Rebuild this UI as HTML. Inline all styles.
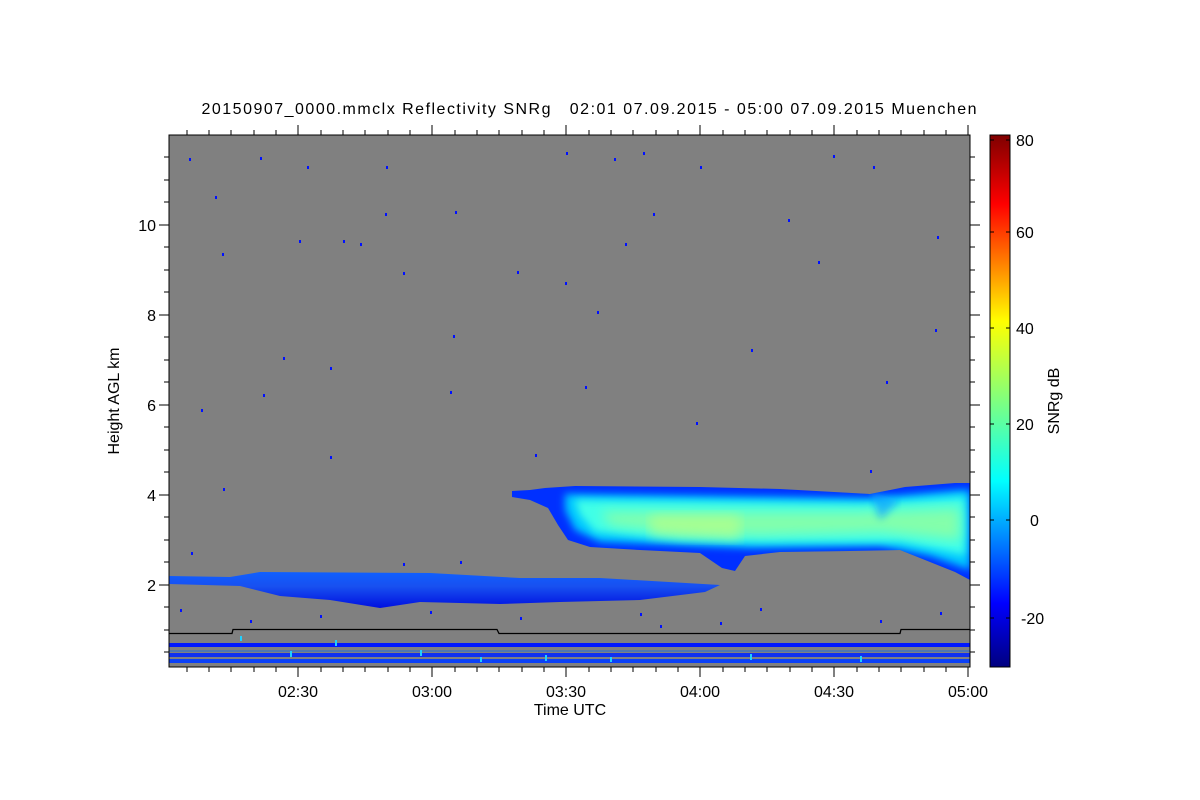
<!DOCTYPE html>
<html><head><style>
body{margin:0;background:#fff;}
svg{display:block;font-family:"Liberation Sans",sans-serif;}
</style></head><body>
<svg width="1200" height="800" viewBox="0 0 1200 800">
<defs>
<linearGradient id="cb" x1="0" y1="1" x2="0" y2="0">
<stop offset="0" stop-color="#00007f"/>
<stop offset="0.12" stop-color="#0000ff"/>
<stop offset="0.35" stop-color="#00ffff"/>
<stop offset="0.5" stop-color="#7fff7f"/>
<stop offset="0.65" stop-color="#ffff00"/>
<stop offset="0.87" stop-color="#ff0000"/>
<stop offset="1" stop-color="#7f0000"/>
</linearGradient>
<linearGradient id="lo" x1="0" y1="0" x2="0" y2="1">
<stop offset="0" stop-color="#1060ff"/>
<stop offset="0.4" stop-color="#1850f0"/>
<stop offset="1" stop-color="#0010e0"/>
</linearGradient>
<filter id="bl" x="-5%" y="-20%" width="110%" height="140%"><feGaussianBlur stdDeviation="4"/></filter>
<filter id="bl2" x="-5%" y="-20%" width="110%" height="140%"><feGaussianBlur stdDeviation="6"/></filter>
<clipPath id="cc"><path d="M512,491 L530,490 L545,488 L575,486 L700,487 L780,489 L870,494 L905,487 L955,483 L970,483 L970,580 L955,572 L925,560 L900,550 L850,551 L780,552 L745,556 L735,571 L722,568 L700,553 L640,550 L590,547 L568,540 L558,525 L548,508 L530,500 L512,497 Z"/></clipPath>
</defs>
<text x="589" y="114" font-size="16" text-anchor="middle" textLength="775" xml:space="preserve">20150907_0000.mmclx Reflectivity SNRg   02:01 07.09.2015 - 05:00 07.09.2015 Muenchen</text>
<rect x="169" y="135" width="801" height="532" fill="#808080"/>
<!-- lower cloud -->
<path d="M169,576 L230,577 L260,572 L430,573 L520,578 L600,578 L720,585 L705,592 L640,600 L560,602 L500,604 L420,602 L380,608 L330,600 L280,596 L240,586 L169,584 Z" fill="url(#lo)"/>
<!-- upper cloud -->
<g clip-path="url(#cc)">
<rect x="500" y="480" width="480" height="110" fill="#0030ff"/>
<path d="M565,494 L870,498 L960,490 L970,490 L970,570 L930,556 L880,546 L750,548 L700,546 L600,542 L575,530 L565,510 Z" fill="#00c8ff" filter="url(#bl)"/>
<path d="M575,500 L865,504 L965,497 L965,555 L900,542 L760,542 L680,540 L595,532 L580,515 Z" fill="#40ffe8" filter="url(#bl)"/>
<path d="M600,512 L860,512 L960,508 L960,540 L880,532 L760,535 L680,533 L610,525 Z" fill="#90ffa0" filter="url(#bl2)" opacity="0.85"/>
<path d="M650,515 L740,515 L740,540 L650,535 Z" fill="#c0ff80" filter="url(#bl2)" opacity="0.6"/>
<path d="M870,492 L900,500 L880,520 Z" fill="#10a0ff" filter="url(#bl)" opacity="0.7"/>
</g>
<!-- clutter bands -->
<rect x="169" y="643" width="801" height="4" fill="#0018ff"/>
<rect x="169" y="653" width="801" height="4" fill="#1030f0"/>
<rect x="169" y="659" width="801" height="4" fill="#0a40f8"/>
<rect x="169" y="650" width="801" height="2" fill="#3070d0" opacity="0.6"/>
<!-- black line -->
<polyline points="169,633.5 232,633.5 233,629.5 497,629.5 499,633.5 884,633.5 886,633.5 900,633.5 901,629.5 970,629.5" fill="none" stroke="#000" stroke-width="1.3"/>
<!-- specks -->
<g fill="#0010ff">
<rect x="189" y="158" width="2" height="3"/><rect x="260" y="157" width="2" height="3"/><rect x="307" y="166" width="2" height="3"/><rect x="386" y="166" width="2" height="3"/><rect x="566" y="152" width="2" height="3"/><rect x="614" y="158" width="2" height="3"/><rect x="643" y="152" width="2" height="3"/><rect x="700" y="166" width="2" height="3"/><rect x="833" y="155" width="2" height="3"/><rect x="873" y="166" width="2" height="3"/>
<rect x="215" y="196" width="2" height="3"/><rect x="385" y="213" width="2" height="3"/><rect x="455" y="211" width="2" height="3"/><rect x="653" y="213" width="2" height="3"/><rect x="788" y="219" width="2" height="3"/><rect x="937" y="236" width="2" height="3"/><rect x="299" y="240" width="2" height="3"/><rect x="343" y="240" width="2" height="3"/><rect x="360" y="243" width="2" height="3"/><rect x="625" y="243" width="2" height="3"/><rect x="818" y="261" width="2" height="3"/><rect x="222" y="253" width="2" height="3"/>
<rect x="403" y="272" width="2" height="3"/><rect x="517" y="271" width="2" height="3"/><rect x="565" y="282" width="2" height="3"/><rect x="597" y="311" width="2" height="3"/><rect x="453" y="335" width="2" height="3"/><rect x="751" y="349" width="2" height="3"/><rect x="330" y="367" width="2" height="3"/><rect x="283" y="357" width="2" height="3"/><rect x="201" y="409" width="2" height="3"/><rect x="585" y="386" width="2" height="3"/><rect x="886" y="381" width="2" height="3"/><rect x="935" y="329" width="2" height="3"/><rect x="696" y="422" width="2" height="3"/><rect x="450" y="391" width="2" height="3"/><rect x="263" y="394" width="2" height="3"/><rect x="223" y="488" width="2" height="3"/><rect x="330" y="456" width="2" height="3"/><rect x="870" y="470" width="2" height="3"/><rect x="535" y="454" width="2" height="3"/>
<rect x="191" y="552" width="2" height="3"/><rect x="403" y="563" width="2" height="3"/><rect x="460" y="561" width="2" height="3"/><rect x="180" y="609" width="2" height="3"/><rect x="250" y="620" width="2" height="3"/><rect x="320" y="615" width="2" height="3"/><rect x="430" y="611" width="2" height="3"/><rect x="520" y="617" width="2" height="3"/><rect x="640" y="613" width="2" height="3"/><rect x="760" y="608" width="2" height="3"/><rect x="880" y="620" width="2" height="3"/><rect x="940" y="612" width="2" height="3"/><rect x="660" y="625" width="2" height="3"/><rect x="720" y="622" width="2" height="3"/>
</g>
<g fill="#20d0ff">
<rect x="240" y="636" width="2" height="5"/><rect x="335" y="640" width="2" height="6"/><rect x="420" y="650" width="2" height="6"/><rect x="545" y="655" width="2" height="6"/><rect x="290" y="651" width="2" height="6"/><rect x="610" y="657" width="2" height="5"/><rect x="750" y="654" width="2" height="6"/><rect x="860" y="656" width="2" height="6"/><rect x="480" y="657" width="2" height="5"/>
</g>
<rect x="169" y="135" width="801" height="532" fill="none" stroke="#000" stroke-width="1"/>
<!-- ticks -->
<g stroke="#000" stroke-width="1">
<path d="M169,585h-10M169,495h-10M169,405h-10M169,315h-10M169,225h-10
M970,585h10M970,495h10M970,405h10M970,315h10M970,225h10
M169,630h-5M169,540h-5M169,450h-5M169,360h-5M169,270h-5M169,180h-5M169,652h-5M169,607h-5M169,562h-5M169,517h-5M169,472h-5M169,427h-5M169,382h-5M169,337h-5M169,292h-5M169,247h-5M169,202h-5M169,157h-5
M970,630h5M970,540h5M970,450h5M970,360h5M970,270h5M970,180h5M970,652h5M970,607h5M970,562h5M970,517h5M970,472h5M970,427h5M970,382h5M970,337h5M970,292h5M970,247h5M970,202h5M970,157h5
M298,667v10M432,667v10M566,667v10M700,667v10M834,667v10M968,667v10
M298,135v-10M432,135v-10M566,135v-10M700,135v-10M834,135v-10M968,135v-10"/>
<path d="M187,667v5M209,667v5M231,667v5M254,667v5M276,667v5M321,667v5M343,667v5M365,667v5M388,667v5M410,667v5M455,667v5M477,667v5M499,667v5M522,667v5M544,667v5M589,667v5M611,667v5M633,667v5M656,667v5M678,667v5M723,667v5M745,667v5M767,667v5M790,667v5M812,667v5M857,667v5M879,667v5M901,667v5M924,667v5M946,667v5
M187,135v-5M209,135v-5M231,135v-5M254,135v-5M276,135v-5M321,135v-5M343,135v-5M365,135v-5M388,135v-5M410,135v-5M455,135v-5M477,135v-5M499,135v-5M522,135v-5M544,135v-5M589,135v-5M611,135v-5M633,135v-5M656,135v-5M678,135v-5M723,135v-5M745,135v-5M767,135v-5M790,135v-5M812,135v-5M857,135v-5M879,135v-5M901,135v-5M924,135v-5M946,135v-5"/>
</g>
<g font-size="16" text-anchor="end">
<text x="156" y="591">2</text><text x="156" y="501">4</text><text x="156" y="411">6</text><text x="156" y="321">8</text><text x="156" y="231">10</text>
</g>
<g font-size="16" text-anchor="middle">
<text x="298" y="697">02:30</text><text x="432" y="697">03:00</text><text x="566" y="697">03:30</text><text x="700" y="697">04:00</text><text x="834" y="697">04:30</text><text x="968" y="697">05:00</text>
<text x="570" y="715">Time UTC</text>
</g>
<text x="0" y="0" font-size="16" text-anchor="middle" transform="translate(119,401) rotate(-90)">Height AGL km</text>
<!-- colorbar -->
<rect x="990" y="135" width="20" height="532" fill="url(#cb)" stroke="#000" stroke-width="1"/>
<g stroke="#000"><path d="M1010,140h-4M1010,232h-4M1010,328h-4M1010,424h-4M1010,520h-4M1010,618h-4M990,140h4M990,232h4M990,328h4M990,424h4M990,520h4M990,618h4"/></g>
<g font-size="16">
<text x="1016" y="146">80</text><text x="1016" y="238">60</text><text x="1016" y="334">40</text><text x="1016" y="430">20</text><text x="1030" y="526">0</text><text x="1021" y="624">-20</text>
</g>
<text x="0" y="0" font-size="16" text-anchor="middle" transform="translate(1059,401) rotate(-90)">SNRg dB</text>
</svg>
</body></html>
